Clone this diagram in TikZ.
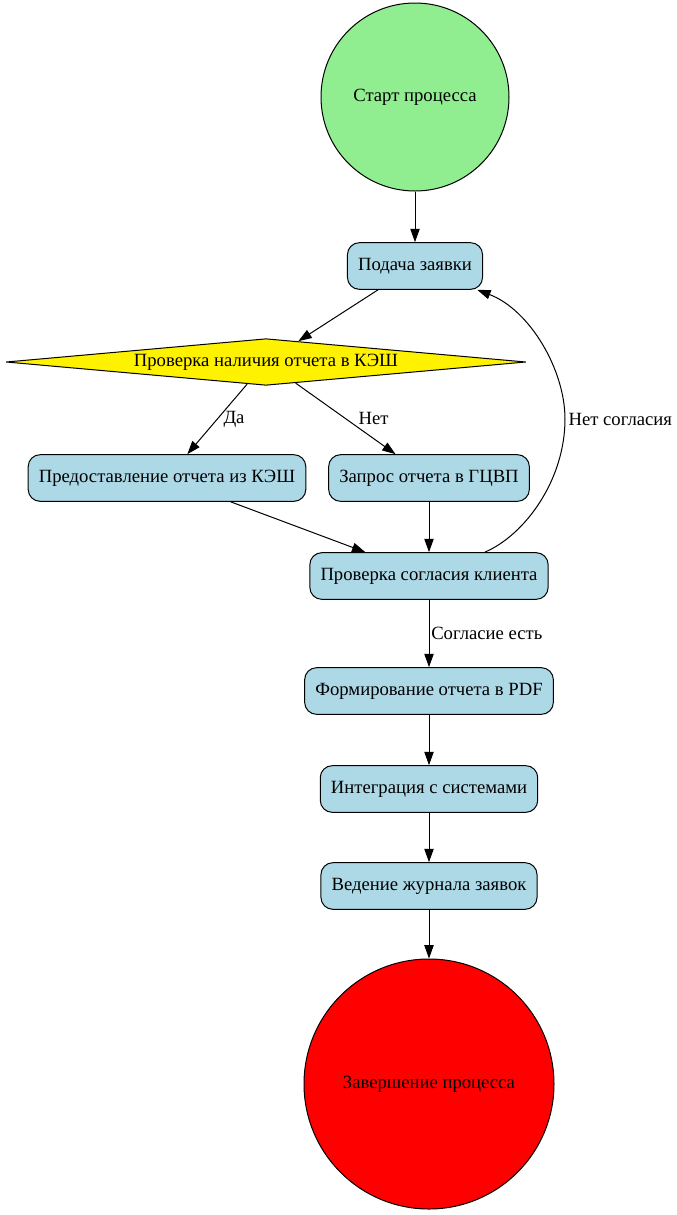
\documentclass[tikz,border=0pt]{standalone}
\usepackage{fontspec}
\setmainfont{Liberation Serif}
\usetikzlibrary{shapes.geometric,arrows.meta}

\definecolor{startgreen}{HTML}{90EE90}
\definecolor{boxblue}{HTML}{ADD8E6}
\definecolor{endred}{HTML}{FF0000}

\tikzset{
  every node/.style={font=\fontsize{14}{16}\selectfont},
  procbox/.style={draw, line width=0.75pt, fill=boxblue, rounded corners=9pt,
    minimum height=35pt, inner xsep=8pt},
  decision/.style={draw, line width=0.75pt, fill=yellow, diamond, aspect=11,
    inner sep=0pt, minimum width=390pt, minimum height=35pt},
  arr/.style={line width=0.75pt, -{Triangle[length=10pt,width=7pt]}},
}

\begin{document}
\begin{tikzpicture}[x=0.75pt,y=-0.75pt] %Схема обработки заявки
    \useasboundingbox (0,0) rectangle (676,1215);

    \node[draw, line width=0.75pt, circle, fill=startgreen, minimum size=141pt] (start) at (415,97) {Старт процесса};
    \node[procbox] (apply) at (415,266) {Подача заявки};
    \node[decision] (cache) at (266,362) {Проверка наличия отчета в КЭШ};
    \node[procbox] (fromcache) at (167,478) {Предоставление отчета из КЭШ};
    \node[procbox] (request) at (429,478) {Запрос отчета в ГЦВП};
    \node[procbox] (consent) at (429,576) {Проверка согласия клиента};
    \node[procbox] (pdf) at (429,691) {Формирование отчета в PDF};
    \node[procbox] (integr) at (429,789) {Интеграция с системами};
    \node[procbox] (journal) at (429,886) {Ведение журнала заявок};
    \node[draw, line width=0.75pt, circle, fill=endred, minimum size=187.5pt] (finish) at (429,1084) {Завершение процесса};

    \draw[arr] (start) -- (apply);
    \draw[arr] (apply) -- (cache);
    \draw[arr] (cache) -- node[midway, anchor=west, xshift=1pt]{Да} (fromcache);
    \draw[arr] (cache) -- node[midway, anchor=west, xshift=6pt]{Нет} (request);
    \draw[arr] (fromcache) -- (consent);
    \draw[arr] (request) -- (consent);
    \draw[arr] (consent) .. controls (525,535) and (565,480) .. (565,419)
        node[anchor=west, xshift=-1pt]{Нет согласия}
        .. controls (565,370) and (530,310) .. (apply);
    \draw[arr] (consent) -- node[midway, anchor=west, xshift=-2pt]{Согласие есть} (pdf);
    \draw[arr] (pdf) -- (integr);
    \draw[arr] (integr) -- (journal);
    \draw[arr] (journal) -- (finish);
\end{tikzpicture}
\end{document}
